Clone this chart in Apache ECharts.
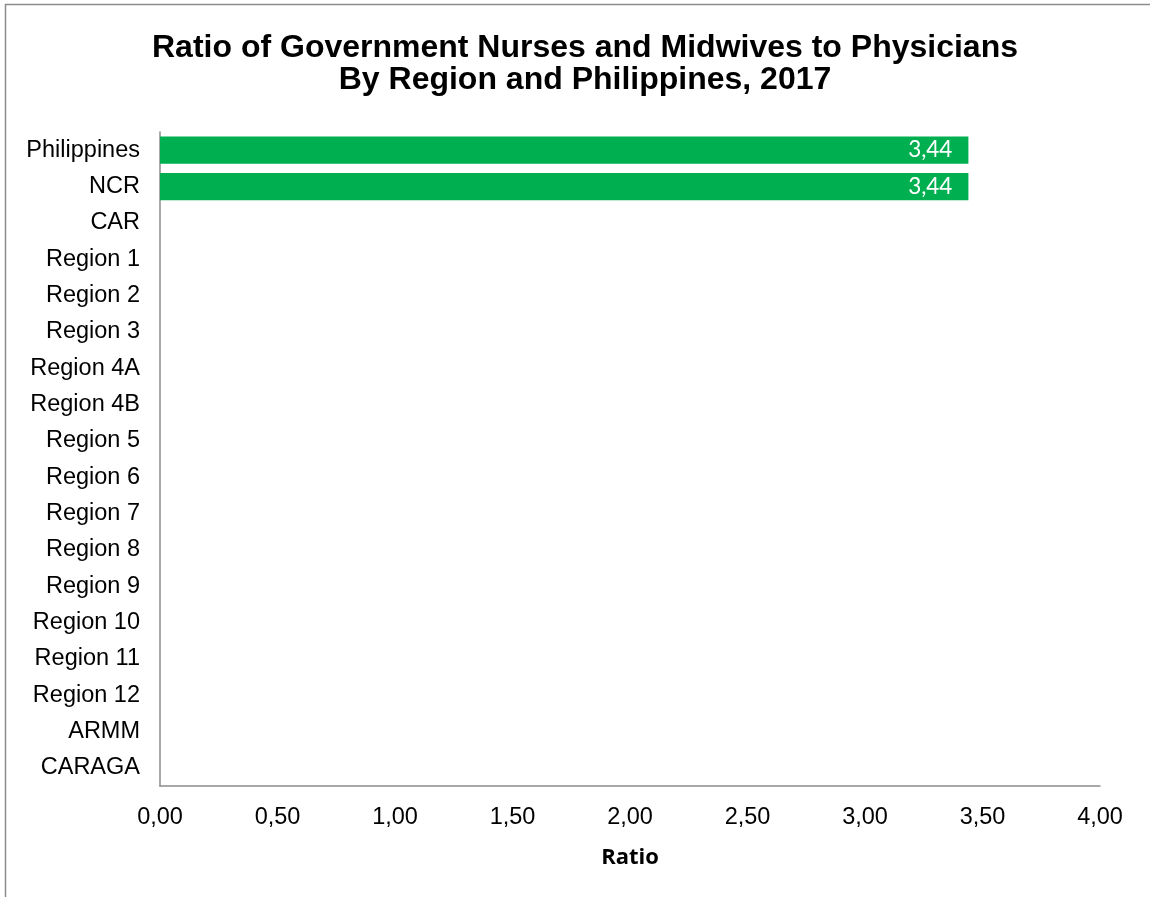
<!DOCTYPE html>
<html><head><meta charset="utf-8">
<script src="https://cdn.jsdelivr.net/npm/echarts@6/dist/echarts.min.js"></script>
<style>html,body{margin:0;padding:0;background:#fff}#c{width:1150px;height:897px}</style>
</head><body><div id="c"></div>
<script>
const categories = ['Philippines','NCR','CAR','Region 1','Region 2','Region 3','Region 4A','Region 4B','Region 5','Region 6','Region 7','Region 8','Region 9','Region 10','Region 11','Region 12','ARMM','CARAGA'];
const ratioValues = [3.44, 3.44, null, null, null, null, null, null, null, null, null, null, null, null, null, null, null, null];
const titleLines = ['Ratio of Government Nurses and Midwives to Physicians', 'By Region and Philippines, 2017'];
const axisName = 'Ratio';

const fmt = v => v.toFixed(2).replace('.', ',');
const chart = echarts.init(document.getElementById('c'), null, {renderer:'canvas'});
chart.setOption({
  animation: false,
  title: {
    text: titleLines.join('\n'),
    left: 580, top: 27, textAlign: 'center',
    textStyle: {fontFamily: 'Liberation Sans', fontWeight: 'bold', fontSize: 32, lineHeight: 32, color: '#000'}
  },
  graphic: [{type:'rect', shape:{x:5.5,y:4.5,width:1160,height:910}, style:{fill:'none', stroke:'#8c8c8c', lineWidth:1.5}, silent:true, z:-1}],
  grid: {left:160, right:50, top:132, bottom:111, containLabel:false},
  xAxis: {
    type:'value', min:0, max:4, interval:0.5,
    axisLine:{show:true, lineStyle:{color:'#8c8c8c', width:1.5}},
    axisTick:{show:false}, splitLine:{show:false},
    axisLabel:{formatter: fmt, fontFamily:'Liberation Sans', fontSize:23.5, color:'#000', margin:20},
    name: axisName, nameLocation:'middle', nameGap:61,
    nameTextStyle:{fontFamily:'Open Sans', fontWeight:'bold', fontSize:22, color:'#000'}
  },
  yAxis: {
    type:'category', data: categories, inverse:true,
    axisLine:{show:true, lineStyle:{color:'#8c8c8c', width:1.5}},
    axisTick:{show:false},
    axisLabel:{fontFamily:'Liberation Sans', fontSize:23.5, color:'#000', margin:20, padding:[3,0,0,0]}
  },
  series: [{
    type:'bar', data: ratioValues, barCategoryGap:'25%',
    itemStyle:{color:'#00b050'},
    label:{show:true, position:'insideRight', formatter: p => p.value == null ? '' : fmt(p.value),
      color:'#fff', fontFamily:'Lato', fontSize:22.5, distance:16, padding:[2,0,0,0]}
  }]
});
</script></body></html>
